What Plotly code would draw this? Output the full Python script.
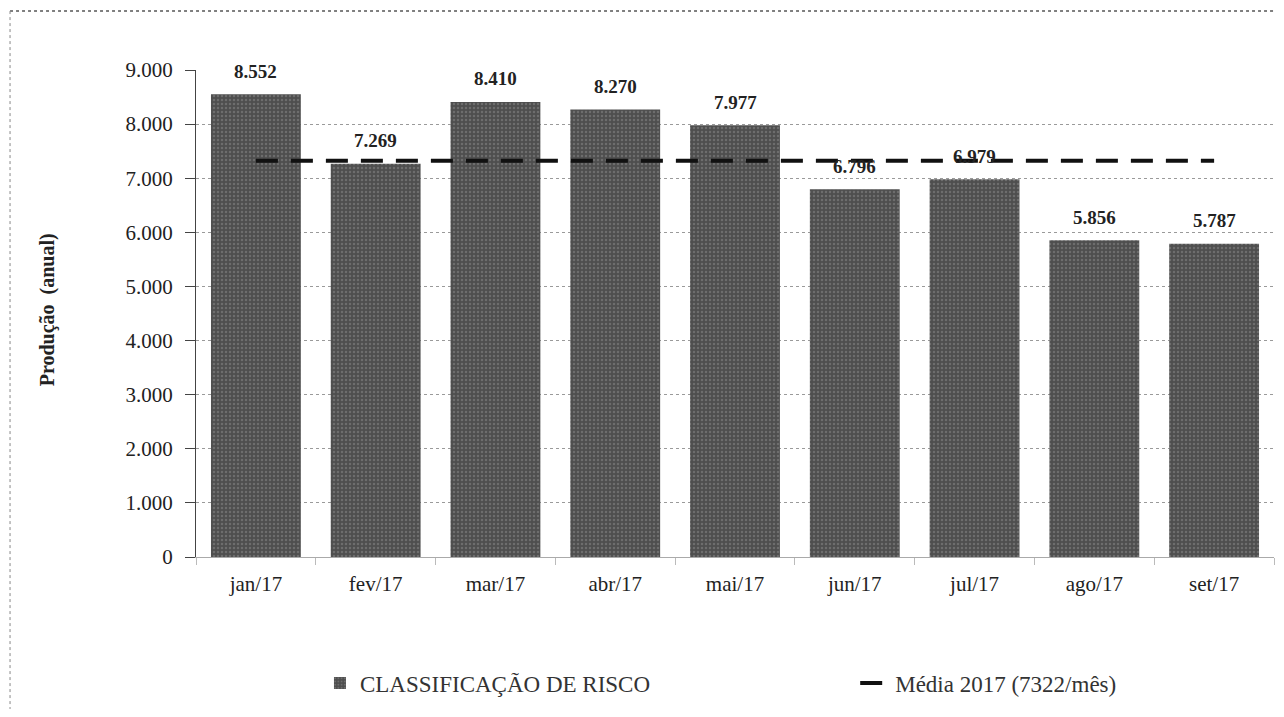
import plotly.graph_objects as go

meses = ["jan/17", "fev/17", "mar/17", "abr/17", "mai/17", "jun/17", "jul/17", "ago/17", "set/17"]
producao = [8552, 7269, 8410, 8270, 7977, 6796, 6979, 5856, 5787]
media = [7322] * len(meses)
y_ticks = [0, 1000, 2000, 3000, 4000, 5000, 6000, 7000, 8000, 9000]

SERIF = "Liberation Serif"

def fmt(v):
    return f"{v:,}".replace(",", ".")

fig = go.Figure()
fig.add_trace(go.Bar(
    x=meses, y=producao, name="CLASSIFICAÇÃO DE RISCO", legend="legend",
    marker=dict(color="#555555", line=dict(width=0),
                pattern=dict(shape=".", fgcolor="#8c8c8c", bgcolor="#4e4e4e", size=4, solidity=0.3)),
))
fig.add_trace(go.Scatter(
    x=meses, y=media, name="Média 2017 (7322/mês)", mode="lines", legend="legend2",
    line=dict(color="#111111", width=4, dash="22px,13px"),
))

for m, v in zip(meses, producao):
    fig.add_annotation(x=m, y=v, text=f"<b>{fmt(v)}</b>", showarrow=False,
                       yshift=23, yanchor="middle",
                       font=dict(family=SERIF, size=19, color="#222222"))

fig.add_annotation(xref="paper", yref="paper", x=-0.138, y=0.507,
                   text="<b>Produção  (anual)</b>", textangle=-90, showarrow=False,
                   xanchor="center", yanchor="middle",
                   font=dict(family=SERIF, size=20, color="#222222"))

legend_font = dict(family=SERIF, size=23, color="#333333")
fig.update_layout(
    width=1276, height=701,
    margin=dict(l=188, r=10, t=62, b=152, autoexpand=False),
    paper_bgcolor="white", plot_bgcolor="white",
    separators=",.",
    bargap=0.25,
    font=dict(family=SERIF, size=20, color="#222222"),
    showlegend=True,
    legend=dict(orientation="h", x=0.115, xanchor="left", y=-0.259, yanchor="middle",
                font=legend_font),
    legend2=dict(orientation="h", x=0.6115, xanchor="left", y=-0.259, yanchor="middle",
                 font=legend_font),
    shapes=[
        dict(type="line", xref="paper", yref="paper", x0=-0.1725, x1=1.01, y0=1.121, y1=1.121,
             line=dict(color="#555555", width=1.5, dash="dot")),
        dict(type="line", xref="paper", yref="paper", x0=-0.1725, x1=-0.1725, y0=1.121, y1=-0.312,
             line=dict(color="#888888", width=1, dash="dot")),
    ],
)
fig.update_xaxes(showgrid=False, showline=True, linecolor="#aaaaaa", linewidth=1,
                 ticks="outside", ticklen=7, tickcolor="#bbbbbb", tickson="boundaries",
                 ticklabelstandoff=8,
                 tickfont=dict(family=SERIF, size=21, color="#222222"))
fig.update_yaxes(range=[0, 9000], tickvals=y_ticks, tickformat=",d",
                 showgrid=True, gridcolor="#9a9a9a", griddash="dot", gridwidth=1,
                 showline=True, linecolor="#444444", linewidth=1,
                 ticks="outside", ticklen=10, tickcolor="#444444", ticklabelstandoff=8,
                 tickfont=dict(family=SERIF, size=21, color="#222222"))

fig.write_html("out.html")
